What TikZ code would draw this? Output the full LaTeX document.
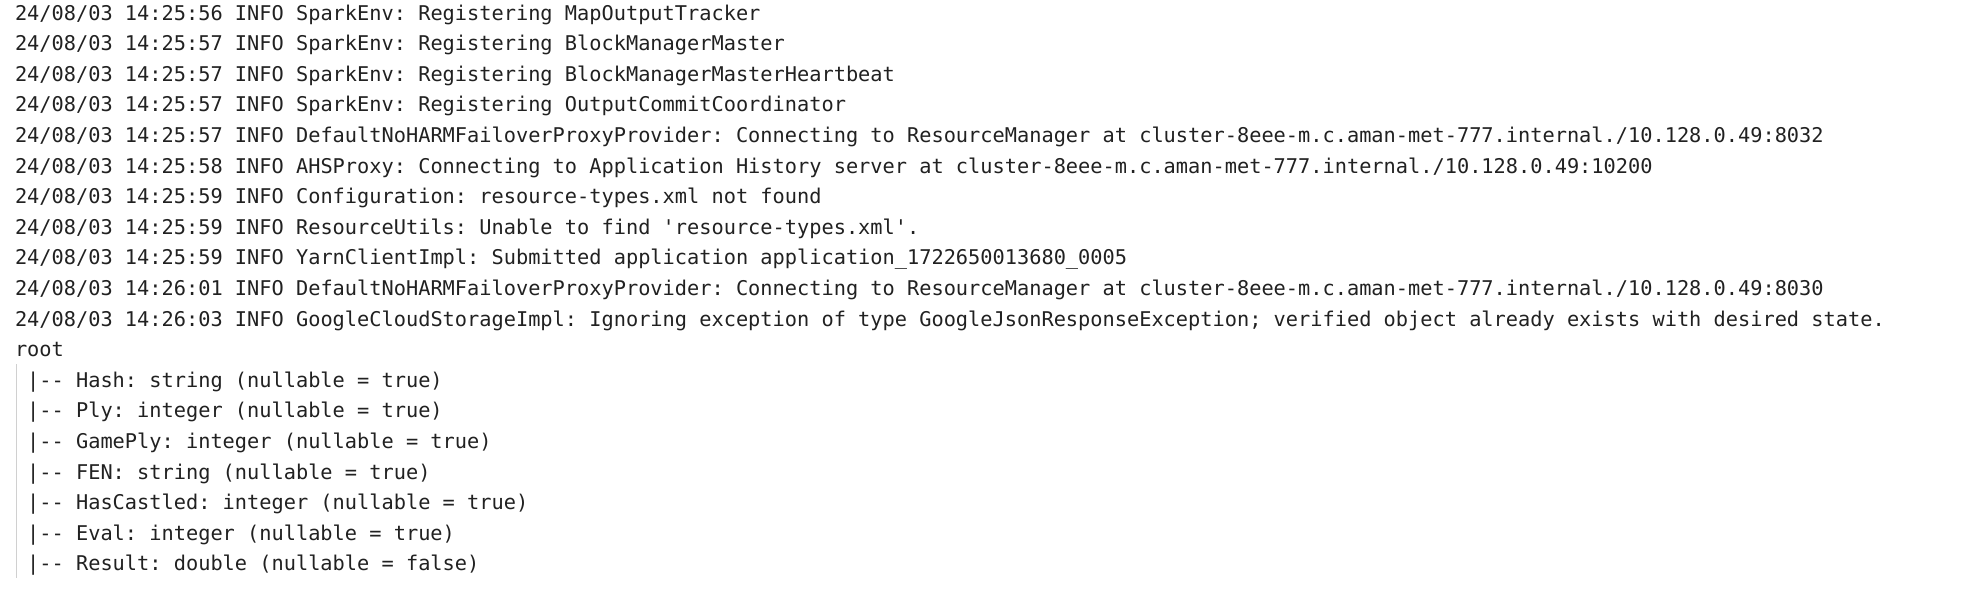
\documentclass[tikz,border=0pt]{standalone}
\usepackage{fontspec}
\setmonofont{DejaVu Sans Mono}
\definecolor{logtext}{RGB}{33,33,33}
\definecolor{treeline}{RGB}{208,208,208}
\begin{document}
\begin{tikzpicture}[x=1pt,y=1pt,
  logline/.style={anchor=base west,inner sep=0pt,outer sep=0pt,text=logtext,
    font=\ttfamily\fontsize{20.3}{30.6}\selectfont}]
\useasboundingbox[fill=white] (0,0) rectangle (1984,-600);
\node[logline] (l1) at (15,-20) {24/08/03 14:25:56 INFO SparkEnv: Registering MapOutputTracker};
\node[logline] (l2) at (15,-50.6) {24/08/03 14:25:57 INFO SparkEnv: Registering BlockManagerMaster};
\node[logline] (l3) at (15,-81.2) {24/08/03 14:25:57 INFO SparkEnv: Registering BlockManagerMasterHeartbeat};
\node[logline] (l4) at (15,-111.8) {24/08/03 14:25:57 INFO SparkEnv: Registering OutputCommitCoordinator};
\node[logline] (l5) at (15,-142.4) {24/08/03 14:25:57 INFO DefaultNoHARMFailoverProxyProvider: Connecting to ResourceManager at cluster-8eee-m.c.aman-met-777.internal./10.128.0.49:8032};
\node[logline] (l6) at (15,-173.0) {24/08/03 14:25:58 INFO AHSProxy: Connecting to Application History server at cluster-8eee-m.c.aman-met-777.internal./10.128.0.49:10200};
\node[logline] (l7) at (15,-203.6) {24/08/03 14:25:59 INFO Configuration: resource-types.xml not found};
\node[logline] (l8) at (15,-234.2) {24/08/03 14:25:59 INFO ResourceUtils: Unable to find 'resource-types.xml'.};
\node[logline] (l9) at (15,-264.8) {24/08/03 14:25:59 INFO YarnClientImpl: Submitted application application\_1722650013680\_0005};
\node[logline] (l10) at (15,-295.4) {24/08/03 14:26:01 INFO DefaultNoHARMFailoverProxyProvider: Connecting to ResourceManager at cluster-8eee-m.c.aman-met-777.internal./10.128.0.49:8030};
\node[logline] (l11) at (15,-326.0) {24/08/03 14:26:03 INFO GoogleCloudStorageImpl: Ignoring exception of type GoogleJsonResponseException; verified object already exists with desired state.};
\node[logline] (root) at (15,-356.6) {root};
\node[logline] (t1) at (27.2,-387.2) {|-- Hash: string (nullable = true)};
\node[logline] (t2) at (27.2,-417.8) {|-- Ply: integer (nullable = true)};
\node[logline] (t3) at (27.2,-448.4) {|-- GamePly: integer (nullable = true)};
\node[logline] (t4) at (27.2,-479.0) {|-- FEN: string (nullable = true)};
\node[logline] (t5) at (27.2,-509.6) {|-- HasCastled: integer (nullable = true)};
\node[logline] (t6) at (27.2,-540.2) {|-- Eval: integer (nullable = true)};
\node[logline] (t7) at (27.2,-570.8) {|-- Result: double (nullable = false)};
\coordinate (gtop) at (16,-364);
\coordinate (gbot) at (16,-578);
\draw[treeline,line width=1pt] (gtop) -- (gbot);
\end{tikzpicture}
\end{document}
